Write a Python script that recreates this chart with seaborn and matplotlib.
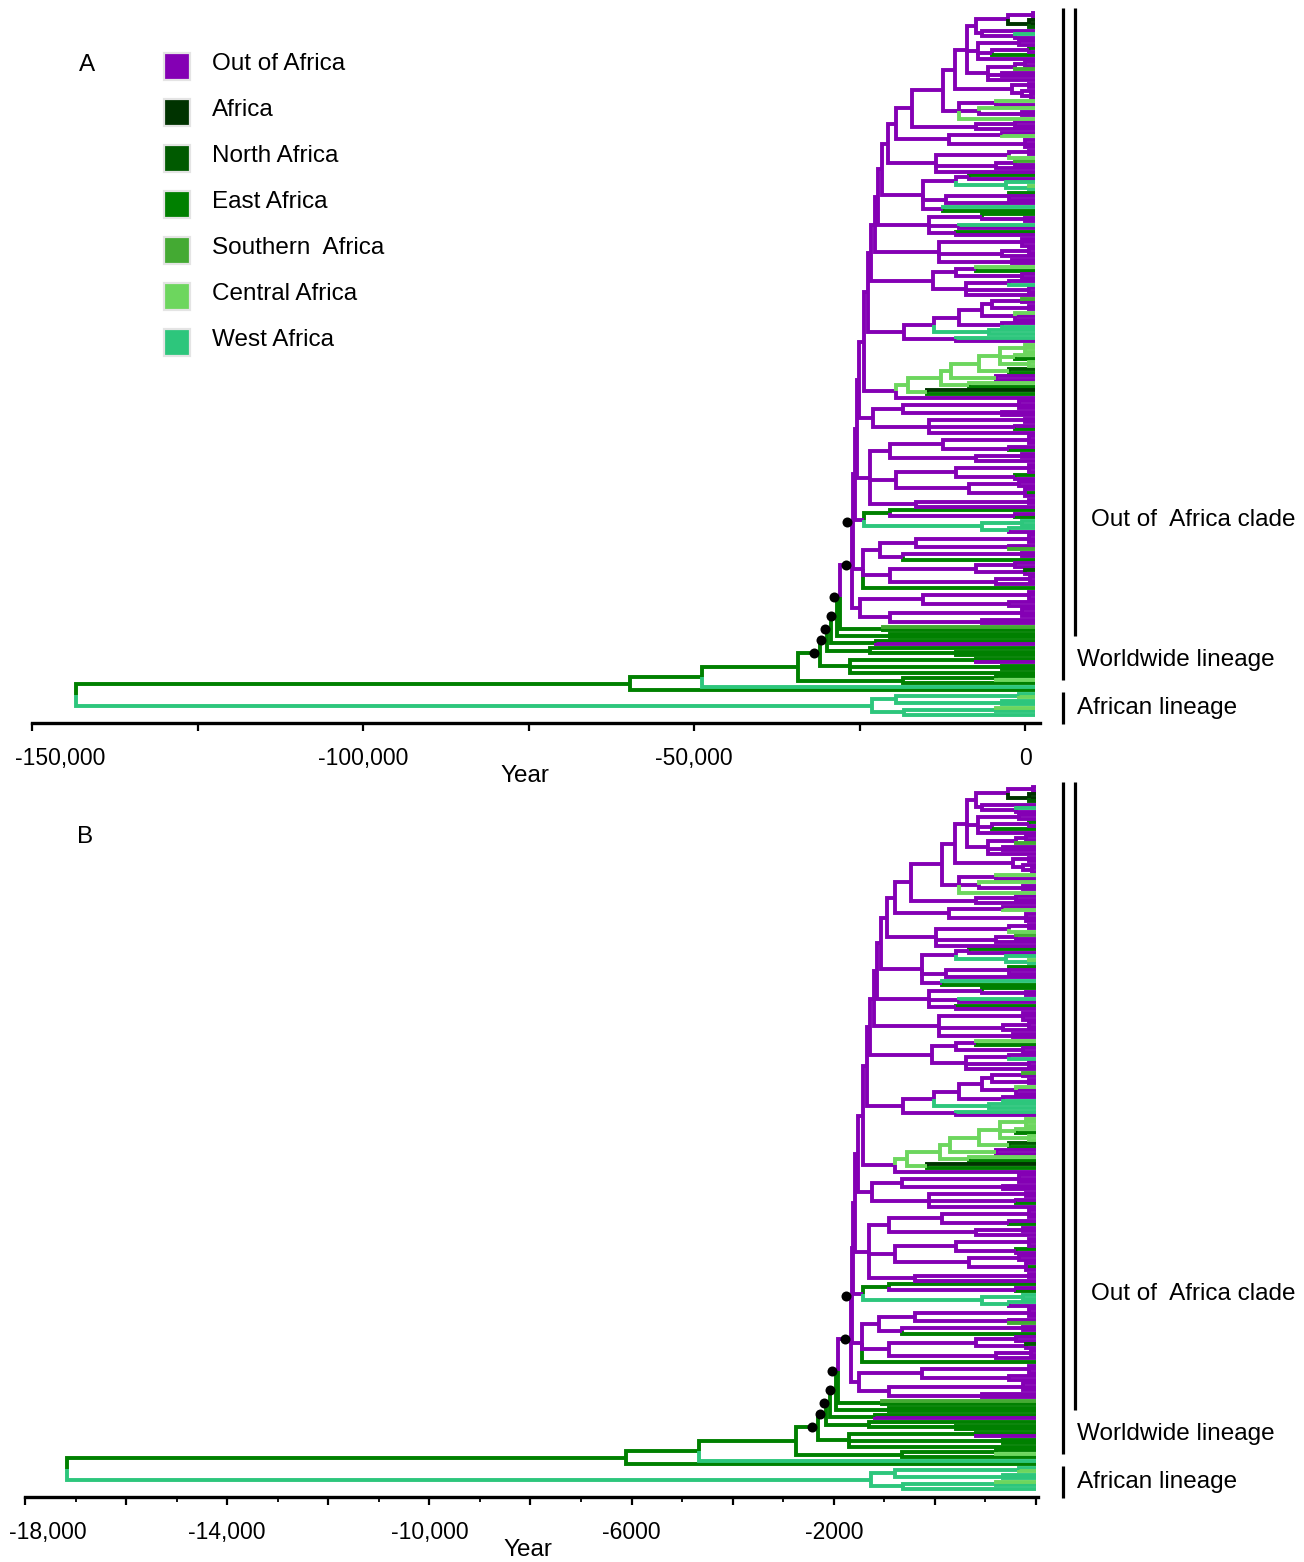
import re
import numpy as np
import pandas as pd
import matplotlib
matplotlib.use("Agg")
import matplotlib.pyplot as plt
import seaborn as sns
from matplotlib import font_manager
from matplotlib.lines import Line2D
from matplotlib.patches import Rectangle
from matplotlib.transforms import ScaledTranslation

# ---------------------------------------------------------------- regions
REGION_CODES = ["P", "A", "N", "E", "S", "C", "W"]
REGION_NAMES = ["Out of Africa", "Africa", "North Africa", "East Africa",
                "Southern  Africa", "Central Africa", "West Africa"]
REGION_COLORS = ["#8400b4", "#003300", "#005a00", "#008000",
                 "#44aa33", "#6dd65e", "#2dc67c"]

# ---------------------------------------------------------------- tree
# Nodes are written "(child,child,...)Xage" where X is the region code of
# the node and age is in thousands of years before the tips (calibration A).
# Tips are a bare region code.  A trailing "*" marks a well supported node.

# uppermost Out-of-Africa subclades
TOP_1 = "(((P,P)P0.4,(A,A,N)A1.0)P4.2,(P,(W,P)P3.0)P8.0)P9.0"
TOP_2 = "((P,P)P2.5,((E,P)P1.0,E)P6.5,P)P8.6"
TOP_3 = "(((P,P)P1.5,S)P3.0,(P,P)P5.0,P)P7.2"
TOP_4 = "((P,P)P1.0,(P,(P,P)P0.6)P2.0)P3.5"
TOP_5 = "((C,P)P6.0,(C,(P,P)P2.0)P8.5,C)P11.5"
TOP_AGES = [10.3, 12.1, 14.0]

# side clades hanging off the Out-of-Africa backbone, top to bottom
SIDE_14 = "((P,P)P3.0,P)P9.0"
SIDE_13 = "((P,C)P5.0,(P,P,P)P1.5)P13.0"
SIDE_12 = "(((P,P)P1.0,C)P4.0,((S,P)P3.0,P)P6.0,P)P15.0"
SIDE_11 = "(((E,P)P10.0,(W,(C,W)W1.0)W4.5)P12.0,((E,P,P)P4.0,P)P13.5,(W,E)P14.0)P17.0"
SIDE_10 = "((E,(P,P)P1.5)P8.0,(W,P)P11.5,(E,P)P12.0)P16.0"
SIDE_9 = "((P,P,P)P2.0,((P,P)P1.0,P)P5.0,(P,P)P3.5)P14.5"
SIDE_8 = "(((C,E)P9.0,(P,P)P2.0)P12.0,((P,W)P4.0,(P,P)P1.0,P)P10.5)P15.5"
SIDE_7 = "((((((S,P)P2.0,(P,P)P1.0)P6.5,(C,P,P)P3.0)P8.0,(P,W)P5.0)P11.5,(W,W)W7.0)P15.3,(W,P)P12.0)P19.8"
CENTRAL = "((((((C,C,C)C1.5,(C,E)C3.0,(C,C)C1.0)C5.3,(N,E)C4.0)C8.5,(P,P)C6.0)C12.8,(C,E)C10.0)C14.3,(A,E)C16.3)C19.2"
SIDE_6 = "(" + CENTRAL + ",P)P21.0"
SIDE_5 = "(((P,P,P)P2.5,(P,P)P5.0)P20.0,((P,P)P1.5,(P,E)P3.0,P)P16.0)P24.5"
SIDE_4 = ("((((P,P,P)P1.0,(P,E)P4.0)P14.0,((P,P)P2.0,P)P9.0)P22.0,"
          "(((P,P,P)P1.0,(E,P)P3.0)P12.0,((P,P)P2.5,(P,E,P)P1.5)P10.0)P21.0,"
          "((P,P)P1.0,P)P18.0)P25.0")
SIDE_3 = "((E,(P,E)P3.0)E22.0,((W,W)W2.0,(W,P)W4.0)W8.0)P25.8"
SIDE_2 = ("((((P,P,P)P1.0,(P,S)P4.0)P18.0,((P,P)P2.0,E)P20.0)P23.5,"
          "(((P,P)P3.0,(N,P)P1.5)P9.0,((P,P)P0.8,P)P6.0)P22.0,E)P26.0")
SIDE_1 = "(((P,P,P)P1.0,(P,P)P4.0)P17.0,((P,P,P)P2.0,(P,P)P8.0)P22.0)P26.5"

OOA_SIDES = [SIDE_14, SIDE_13, SIDE_12, SIDE_11, SIDE_10, SIDE_9, SIDE_8,
             SIDE_7, SIDE_6, SIDE_5, SIDE_4, SIDE_3, SIDE_2, SIDE_1]
OOA_AGES = [18.6, 21.1, 22.3, 23.1, 23.7, 24.2, 24.8,
            25.2, 25.8, 26.6, 27.0, 27.3, 27.5, 27.7]
OOA_SUPPORT = [False] * 12 + [True, True]

# African clades on the worldwide backbone, top to bottom
WW_SIDES = ["(S,E)E23.0", "(E,E)E22.0", "(E,P)E24.0",
            "(E,(E,E)E12.0)E25.0", "((E,P)E9.0,(E,E)E5.0,E)E28.0",
            "((E,C)E6.0,E)E20.0", "W", "E"]
WW_AGES = [29.5, 29.9, 30.8, 31.4, 32.5, 35.9, 50.3, 61.2]
WW_SUPPORT = [True, True, True, True, True, False, False, False]

AFRICAN = "(((W,C)W2.5,(W,W)W5.0)W21.1,((C,W)W6.0,W)W19.9)W24.6"
ROOT_AGE = 144.8

# calibration B runs this many times faster than calibration A
RATE_FACTOR_B = 7.55
TIP_YEAR_A = 1500
TIP_YEAR_B = 2000


def build_newick():
    node = "(" + ",".join([TOP_1, TOP_2, TOP_3]) + f")P{TOP_AGES[0]}"
    node = f"({node},{TOP_4})P{TOP_AGES[1]}"
    node = f"({node},{TOP_5})P{TOP_AGES[2]}"
    for side, age, sup in zip(OOA_SIDES, OOA_AGES, OOA_SUPPORT):
        node = f"({node},{side})P{age}" + ("*" if sup else "")
    for side, age, sup in zip(WW_SIDES, WW_AGES, WW_SUPPORT):
        node = f"({node},{side})E{age}" + ("*" if sup else "")
    return f"({node},{AFRICAN})E{ROOT_AGE}"


def parse(s):
    s = re.sub(r"\s+", "", s)
    pos = 0

    def node():
        nonlocal pos
        children = []
        if s[pos] == "(":
            pos += 1
            while True:
                children.append(node())
                ch = s[pos]
                pos += 1
                if ch == ")":
                    break
        code = s[pos]
        pos += 1
        j = pos
        while pos < len(s) and (s[pos].isdigit() or s[pos] == "."):
            pos += 1
        age = float(s[j:pos]) if pos > j else 0.0
        flag = False
        if pos < len(s) and s[pos] == "*":
            flag = True
            pos += 1
        return {"code": code, "age": age, "children": children, "flag": flag}

    return node()


root = parse(build_newick())

tips = []


def place(n):
    if not n["children"]:
        n["y"] = float(len(tips))
        tips.append(n)
    else:
        for c in n["children"]:
            place(c)
        n["y"] = (n["children"][0]["y"] + n["children"][-1]["y"]) / 2


place(root)
N_TIPS = len(tips)

rows, dots = [], []


def collect(n):
    if n["flag"]:
        dots.append((n["age"], n["y"]))
    for c in n["children"]:
        bid = len(rows)
        for age, y in ((n["age"], n["y"]), (n["age"], c["y"]), (c["age"], c["y"])):
            rows.append({"branch": bid, "age": age, "y": y, "region": c["code"]})
        collect(c)


collect(root)
branches = pd.DataFrame(rows)
support = pd.DataFrame(dots, columns=["age", "y"])

# ---------------------------------------------------------------- figure
W, H = 1304, 1562
sns.set_style("white")
plt.rcParams["font.family"] = ["Liberation Sans", "DejaVu Sans"]
plt.rcParams["lines.solid_capstyle"] = "butt"
plt.rcParams["lines.solid_joinstyle"] = "miter"

try:
    font_manager.findfont("Liberation Sans Narrow", fallback_to_default=False)
    TICK_FONT, TICK_SIZE = ["Liberation Sans Narrow", "DejaVu Sans"], 20
except Exception:
    TICK_FONT, TICK_SIZE = ["Liberation Sans", "DejaVu Sans"], 16.5

fig = plt.figure(figsize=(W / 100, H / 100), dpi=100)
palette = dict(zip(REGION_CODES, REGION_COLORS))


def fx(px):
    return px / W


def fy(py):
    return 1 - py / H


def draw_panel(left, right, spine_y, top_y, tip_first, tip_last,
               xlim, tip_year, factor, major, minor, labels, label_shift):
    ax = fig.add_axes([fx(left), fy(spine_y), fx(right) - fx(left), (spine_y - top_y) / H])
    df = branches.copy()
    df["x"] = tip_year - df["age"] * 1000 / factor
    sns.lineplot(data=df, x="x", y="y", units="branch", estimator=None,
                 hue="region", palette=palette, sort=False, linewidth=2.8,
                 legend=False, ax=ax)
    sx = tip_year - support["age"] * 1000 / factor
    offset = ax.transData + ScaledTranslation(-6 / 100, 0, fig.dpi_scale_trans)
    ax.scatter(sx, support["y"], s=52, color="black", zorder=5,
               transform=offset, linewidths=0)
    step = (tip_last - tip_first) / (N_TIPS - 1)
    ax.set_ylim((spine_y - tip_first) / step, (top_y - tip_first) / step)
    ax.set_xlim(*xlim)
    for side in ("left", "top", "right"):
        ax.spines[side].set_visible(False)
    ax.spines["bottom"].set_linewidth(2.4)
    ax.spines["bottom"].set_color("black")
    ax.set_yticks([])
    ax.set_xticks(major)
    ax.set_xticklabels(labels, fontsize=TICK_SIZE, family=TICK_FONT)
    if minor is not None:
        ax.set_xticks(minor, minor=True)
    ax.tick_params(axis="x", which="major", bottom=True, direction="out",
                   length=5.5, width=1.6, pad=12, colors="black")
    ax.tick_params(axis="x", which="minor", bottom=True, direction="out",
                   length=3.5, width=1.3, colors="black")
    ax.set_xlabel("")
    ax.set_ylabel("")
    first = ax.get_xticklabels()[0]
    first.set_transform(first.get_transform() +
                        ScaledTranslation(label_shift / 100, 0, fig.dpi_scale_trans))
    return ax


draw_panel(32, 1040, 723, 4, 13, 715, (-150000, 2200), TIP_YEAR_A, 1.0,
           np.arange(-150000, 1, 25000), None,
           ["-150,000", "", "-100,000", "", "-50,000", "", "0"], 28)
draw_panel(25, 1038, 1497, 778, 787, 1489, (-18000, 2040), TIP_YEAR_B, RATE_FACTOR_B,
           np.arange(-18000, 2001, 2000), np.arange(-18000, 2001, 1000),
           ["-18,000", "", "-14,000", "", "-10,000", "", "-6000", "", "-2000", "", ""], 23)

TEXT = dict(fontsize=17.5, color="black", va="center")
fig.text(fx(525), fy(776), "Year", ha="center", **TEXT)
fig.text(fx(528), fy(1550), "Year", ha="center", **TEXT)
fig.text(fx(87), fy(65), "A", ha="center", **TEXT)
fig.text(fx(85), fy(837), "B", ha="center", **TEXT)

# legend of sampling regions
for i, (name, color) in enumerate(zip(REGION_NAMES, REGION_COLORS)):
    cy = 66.5 + 46.0 * i
    fig.add_artist(Rectangle((fx(164), fy(cy + 13)), 26 / W, 26 / H,
                             transform=fig.transFigure, facecolor=color,
                             edgecolor="#e4e4e4", linewidth=1.6))
    fig.text(fx(212), fy(cy - 2), name, ha="left", **TEXT)

# clade brackets
for dy in (0, 774):
    for x, y0, y1 in ((1063, 8, 680), (1075, 8, 636), (1063, 692, 724)):
        fig.add_artist(Line2D([fx(x), fx(x)], [fy(y0 + dy), fy(y1 + dy)],
                              transform=fig.transFigure, color="black",
                              linewidth=2.3, solid_capstyle="butt"))
    fig.text(fx(1091), fy(520 + dy), "Out of  Africa clade", ha="left", **TEXT)
    fig.text(fx(1077), fy(660 + dy), "Worldwide lineage", ha="left", **TEXT)
    fig.text(fx(1077), fy(708 + dy), "African lineage", ha="left", **TEXT)

fig.savefig("out.png", dpi=100)
